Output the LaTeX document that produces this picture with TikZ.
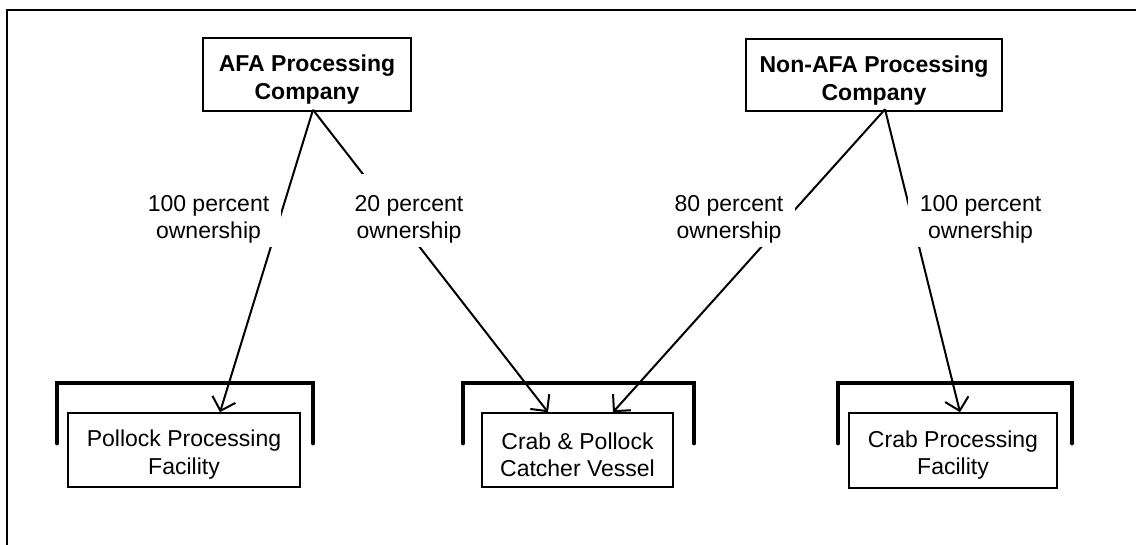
\documentclass[tikz,border=0pt]{standalone}
\usepackage{fontspec}
\setmainfont{Liberation Sans}
\usetikzlibrary{arrows.meta, positioning, calc}
\newcommand{\toppad}[1]{\rule{0pt}{#1}}
\tikzset{
  company/.style={rectangle, draw, line width=1.6pt, align=center, inner sep=0pt, font=\fontsize{23}{28}\selectfont\bfseries},
  facility/.style={rectangle, draw, fill=white, line width=1.6pt, align=center, inner sep=0pt, font=\fontsize{23}{27.5}\selectfont},
  share/.style={fill=white, align=center, inner xsep=12pt, inner ysep=3.5pt, font=\fontsize{23}{27}\selectfont},
  arrow/.style={-{Straight Barb[length=12pt, width=24pt]}, line width=2pt},
  bracket/.style={line width=4.8pt, line cap=round},
  frame/.style={line width=2.4pt},
}

\begin{document}
\begin{tikzpicture}[x=1pt, y=-1pt]
  \useasboundingbox (0,0) rectangle (1136,545);
  \draw[frame] (1136,10) -- (7,10) -- (7,545);

  % Owners
  \node[company, minimum width=208pt, minimum height=73pt] (afa) at (307,74.5) {\toppad{27pt}AFA Processing\\Company};
  \node[company, minimum width=256pt, minimum height=72pt] (nonafa) at (874,75) {\toppad{27pt}Non-AFA Processing\\Company};

  % Brackets and owned units
  \draw[bracket] (57,443) |- (313,383) -- (313,443);
  \draw[bracket] (463,443) |- (694,383) -- (694,443);
  \draw[bracket] (838,443) |- (1072,383) -- (1072,443);
  \node[facility, minimum width=232pt, minimum height=74pt] (pollock) at (184,450) {\toppad{26pt}Pollock Processing\\Facility};
  \node[facility, minimum width=191pt, minimum height=74pt] (vessel) at (577.5,450) {\toppad{26pt}Crab \& Pollock\\Catcher Vessel};
  \node[facility, minimum width=208pt, minimum height=75pt] (crab) at (953,450.5) {\toppad{26pt}Crab Processing\\Facility};

  % Ownership links
  \coordinate (afa-root) at ($(afa.south)+(6,-2)$);
  \coordinate (nonafa-root) at ($(nonafa.south)+(11,-2.5)$);
  \draw[arrow] (afa-root) -- ($(pollock.north)+(36,0)$);
  \draw[arrow] (afa-root) -- ($(vessel.north)+(-29.5,0)$);
  \draw[arrow] (nonafa-root) -- ($(vessel.north)+(35.5,0)$);
  \draw[arrow] (nonafa-root) -- ($(crab.north)+(7,0)$);

  % Shares
  \node[share] (share-pollock) at (208.5,210.5) {\toppad{33.5pt}100 percent\\ownership};
  \node[share] (share-vessel-a) at (409,210.5) {\toppad{33.5pt}20 percent\\ownership};
  \node[share] (share-vessel-b) at (729,210.5) {\toppad{33.5pt}80 percent\\ownership};
  \node[share] (share-crab) at (980.5,210.5) {\toppad{33.5pt}100 percent\\ownership};
\end{tikzpicture}
\end{document}
